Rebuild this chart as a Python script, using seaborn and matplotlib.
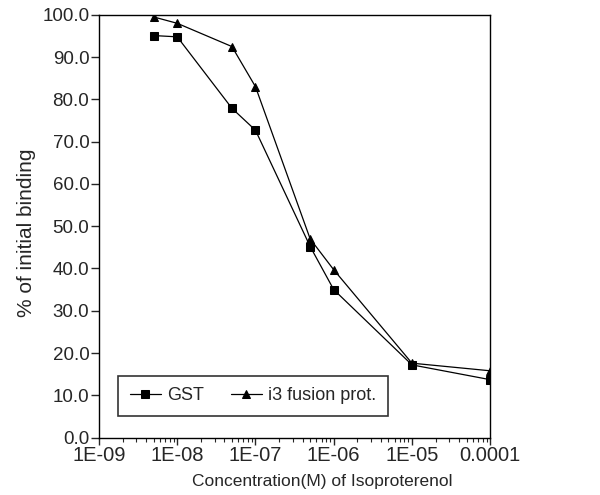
import numpy as np
import pandas as pd
import matplotlib
matplotlib.use("Agg")
import matplotlib.pyplot as plt
import matplotlib.ticker as mticker
import seaborn as sns

# data
conc = [5e-9, 1e-8, 5e-8, 1e-7, 5e-7, 1e-6, 1e-5, 1e-4]
gst = [95.1, 94.8, 77.9, 72.7, 45.2, 35.0, 17.2, 13.7]
i3_fusion = [99.5, 98.0, 92.5, 83.0, 47.0, 39.7, 17.6, 15.8]
series_names = ["GST", "i3 fusion prot."]
x_ticks = [1e-9, 1e-8, 1e-7, 1e-6, 1e-5, 1e-4]
x_tick_labels = ["1E-09", "1E-08", "1E-07", "1E-06", "1E-05", "0.0001"]
y_ticks = [0, 10, 20, 30, 40, 50, 60, 70, 80, 90, 100]

df = pd.concat([
    pd.DataFrame({"conc": conc, "binding": gst, "series": series_names[0]}),
    pd.DataFrame({"conc": conc, "binding": i3_fusion, "series": series_names[1]}),
])

sns.set_style("ticks")
plt.rcParams["font.family"] = ["Liberation Sans", "DejaVu Sans"]

fig = plt.figure(figsize=(6, 4.95), dpi=100)
ax = fig.add_axes([0.165, 0.116, 0.652, 0.854])

sns.lineplot(data=df, x="conc", y="binding", hue="series", style="series",
             markers={"GST": "s", "i3 fusion prot.": "^"}, dashes=False,
             palette={"GST": "black", "i3 fusion prot.": "black"},
             markersize=6.3, linewidth=0.9, markeredgecolor="black", ax=ax)

ax.set_xscale("log")
ax.set_xlim(1e-9, 1e-4)
ax.set_ylim(0, 100)
ax.set_xticks(x_ticks)
ax.set_xticklabels(x_tick_labels)
ax.xaxis.set_minor_locator(mticker.LogLocator(base=10, subs=np.arange(2, 10)))
ax.xaxis.set_minor_formatter(mticker.NullFormatter())
ax.set_yticks(y_ticks)
ax.set_yticklabels([f"{v:.1f}" for v in y_ticks])
ax.tick_params(axis="x", which="major", labelsize=14.5, length=5, width=1, direction="out", pad=1)
ax.tick_params(axis="y", which="major", labelsize=13.5, length=6, width=1, direction="out", pad=1)
ax.tick_params(axis="x", which="minor", length=3, width=0.8, direction="out")

for s in ax.spines.values():
    s.set_linewidth(1)
    s.set_color("black")

ax.set_xlabel("Concentration(M) of Isoproterenol", fontsize=12.5)
ax.xaxis.set_label_coords(0.57, -0.085)
ax.set_ylabel("% of initial binding", fontsize=15)
ax.yaxis.set_label_coords(-0.16, 0.485)

leg = ax.legend(loc="lower left", bbox_to_anchor=(0.049, 0.051), borderaxespad=0,
                ncol=2, fontsize=13, frameon=True, fancybox=False, edgecolor="black",
                handlelength=1.7, handletextpad=0.35, columnspacing=1.5, borderpad=0.65,
                title=None)
leg.get_frame().set_linewidth(1.2)

fig.savefig("out.png", dpi=100)
